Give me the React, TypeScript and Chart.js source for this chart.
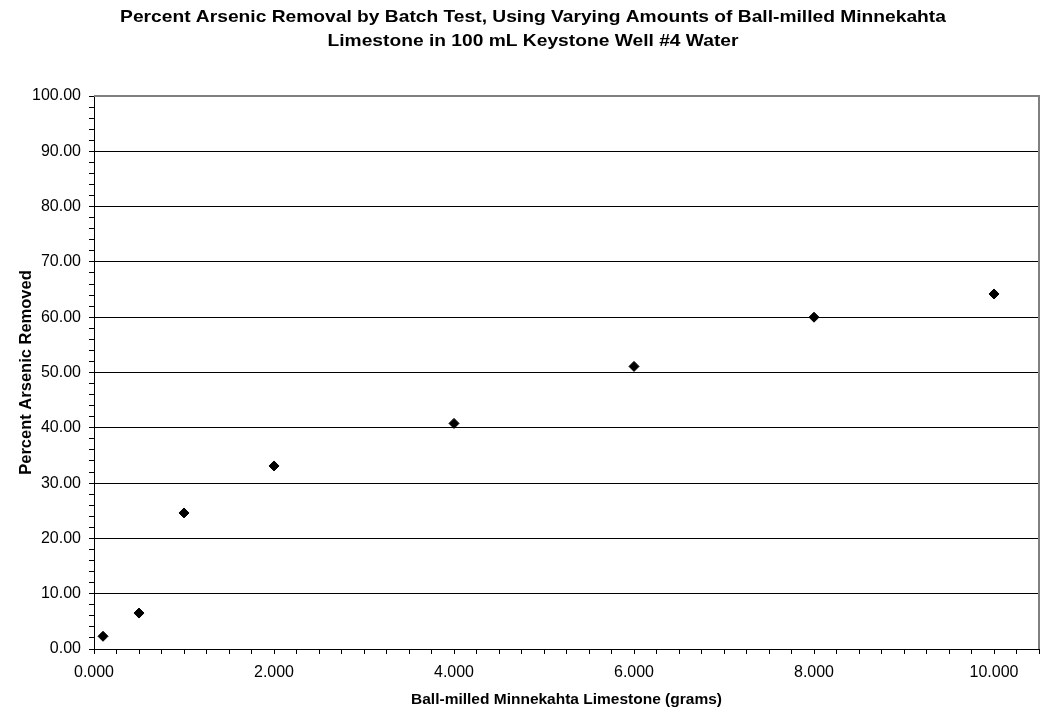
import React, { useEffect, useRef } from "react";
import { Chart, registerables } from "chart.js";

Chart.register(...registerables);

const titleLines = [
  "Percent Arsenic Removal by Batch Test, Using Varying Amounts of Ball-milled Minnekahta",
  "Limestone in 100 mL Keystone Well #4 Water",
];
const xAxisTitle = "Ball-milled Minnekahta Limestone (grams)";
const yAxisTitle = "Percent Arsenic Removed";

const limestoneGrams = [0.1, 0.5, 1, 2, 4, 6, 8, 10];
const percentRemoved = [2.3, 6.5, 24.6, 33.1, 40.8, 51.1, 60.0, 64.2];

const FONT = "'Liberation Sans', Arial, Helvetica, sans-serif";

const frameAndTitle = {
  id: "frameAndTitle",
  beforeDatasetsDraw(chart: any) {
    const { ctx, chartArea } = chart;
    ctx.save();
    ctx.strokeStyle = "#808080";
    ctx.lineWidth = 2;
    ctx.beginPath();
    ctx.moveTo(chartArea.left, chartArea.top);
    ctx.lineTo(chartArea.right, chartArea.top);
    ctx.lineTo(chartArea.right, chartArea.bottom);
    ctx.stroke();
    ctx.restore();
  },
  afterDraw(chart: any) {
    const { ctx } = chart;
    ctx.save();
    ctx.fillStyle = "#000";
    ctx.font = `bold 17px ${FONT}`;
    ctx.textAlign = "center";
    ctx.textBaseline = "alphabetic";
    const sx = 1.13;
    ctx.translate(533, 0);
    ctx.scale(sx, 1);
    ctx.fillText(titleLines[0], 0, 22);
    ctx.fillText(titleLines[1], 0, 45.5);
    ctx.restore();
  },
};

export default function App() {
  const ref = useRef<HTMLCanvasElement | null>(null);

  useEffect(() => {
    document.body.style.margin = "0";
    document.body.style.overflow = "hidden";
    const canvas = ref.current!;
    const chart = new Chart(canvas, {
      type: "scatter",
      data: {
        datasets: [
          {
            label: "Percent Removed",
            data: limestoneGrams.map((x, i) => ({ x, y: percentRemoved[i] })),
            pointStyle: "rectRot",
            pointRadius: 5,
            pointBackgroundColor: "#000",
            pointBorderColor: "#000",
            pointBorderWidth: 1,
            showLine: false,
          },
        ],
      },
      options: {
        animation: false,
        responsive: false,
        devicePixelRatio: 1,
        layout: { padding: { top: 96, right: 0, left: 0, bottom: 0 } },
        plugins: {
          legend: { display: false },
          tooltip: { enabled: false },
          title: { display: false },
        },
        scales: {
          x: {
            type: "linear",
            min: 0,
            max: 10.5,
            afterFit(scale: any) {
              scale.height = 66;
              scale.paddingLeft = 0;
              scale.paddingRight = 0;
            },
            border: { color: "#000", width: 1 },
            grid: {
              drawOnChartArea: false,
              tickColor: "#000",
              tickLength: 5,
            },
            ticks: {
              stepSize: 0.25,
              autoSkip: false,
              maxRotation: 0,
              padding: 9,
              color: "#000",
              font: { family: FONT, size: 16 },
              callback: (v: any) => (Number(v) % 2 === 0 ? Number(v).toFixed(3) : ""),
            },
            title: {
              display: true,
              text: xAxisTitle,
              color: "#000",
              font: { family: FONT, size: 15.5, weight: "bold" },
              padding: { top: 0, bottom: 6 },
            },
          },
          y: {
            type: "linear",
            min: 0,
            max: 100,
            afterFit(scale: any) {
              scale.width = 94;
              scale.paddingTop = 0;
              scale.paddingBottom = 0;
            },
            border: { color: "#000", width: 1 },
            grid: {
              color: (c: any) =>
                c.tick && c.tick.value % 10 === 0 && c.tick.value !== 100 && c.tick.value !== 0
                  ? "#000"
                  : "rgba(0,0,0,0)",
              tickColor: "#000",
              tickLength: 5,
            },
            ticks: {
              stepSize: 2,
              autoSkip: false,
              padding: 8,
              color: "#000",
              font: { family: FONT, size: 16 },
              callback: (v: any) => (Number(v) % 10 === 0 ? Number(v).toFixed(2) : ""),
            },
            title: {
              display: true,
              text: yAxisTitle,
              color: "#000",
              font: { family: FONT, size: 16.5, weight: "bold" },
              padding: { top: 17, bottom: 0 },
            },
          },
        },
      },
      plugins: [frameAndTitle],
    });
    return () => chart.destroy();
  }, []);

  return (
    <div style={{ width: 1041, height: 715, overflow: "hidden" }}>
      <canvas ref={ref} width={1045} height={715} style={{ display: "block" }} />
    </div>
  );
}
